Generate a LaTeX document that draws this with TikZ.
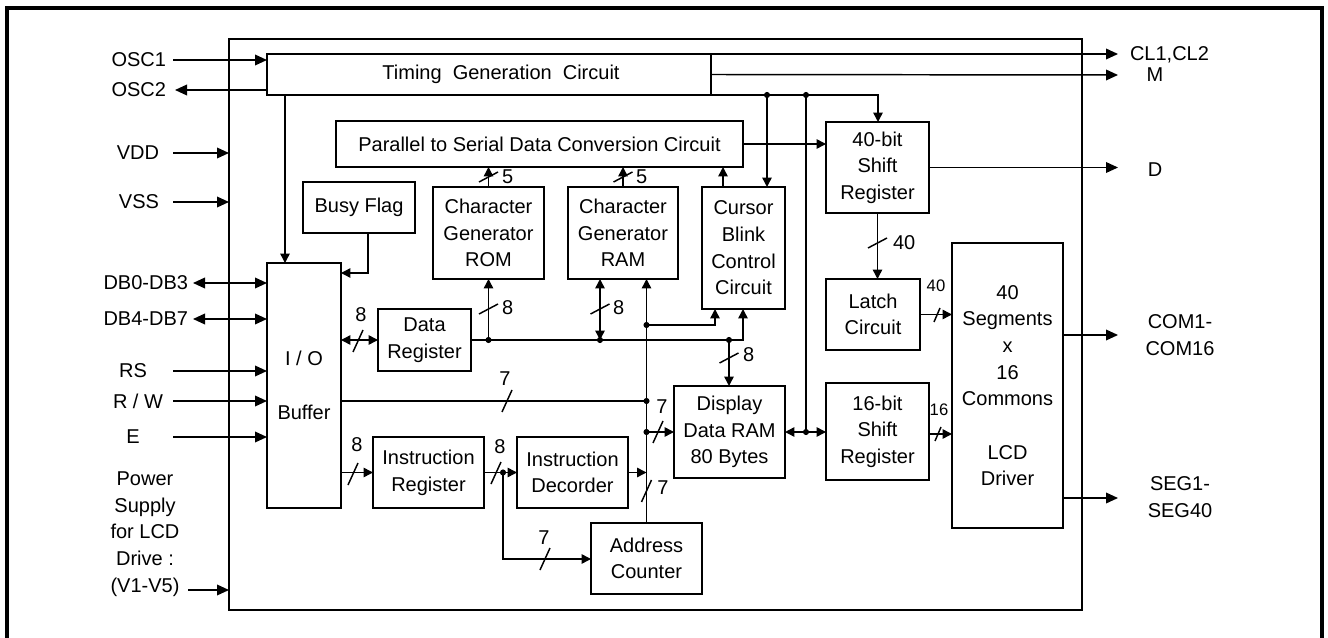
\documentclass[tikz,border=0pt]{standalone}
\usepackage{fontspec}
\setmainfont{Liberation Sans}
\usetikzlibrary{arrows.meta}
\begin{document}
\begin{tikzpicture}[x=0.75pt,y=-0.75pt,
  font=\fontsize{15}{20}\selectfont,
  every node/.style={inner sep=0pt, outer sep=0pt},
  box/.style={draw, line width=1.1pt, inner sep=0pt, outer sep=0pt, align=center},
  sz/.style 2 args={minimum width=#1*0.75pt, minimum height=#2*0.75pt},
  wire/.style={line width=1.1pt},
  ar/.style={wire, -{Triangle[length=7pt,width=7pt]}},
  dar/.style={wire, {Triangle[length=7pt,width=7pt]}-{Triangle[length=7pt,width=7pt]}},
  extar/.style={wire, -{Triangle[length=9pt,width=8pt]}},
  extdar/.style={wire, {Triangle[length=9pt,width=8pt]}-{Triangle[length=9pt,width=8pt]}},
  hsl/.pic={\draw[wire] (-5,11) -- (5,-11);},
  hss/.pic={\draw[wire] (-3,7) -- (3,-7);},
  vsl/.pic={\draw[wire] (-9.5,5) -- (9.5,-5);},
  small/.style={font=\fontsize{12.5}{15}\selectfont}
]
\useasboundingbox (0,0) rectangle (1328,638);
% outer frame
\draw[line width=2.4pt] (7,645) -- (7,8) -- (1322,8) -- (1322,645);

% blocks
\node[box, sz={853}{571}] (chip) at (655.5,324.5) {};
\node[box, sz={444}{41}] (timing) at (489,74.5) {\hspace*{18pt}Timing\ \ Generation\ \ Circuit};
\node[box, sz={407}{46}] (p2s) at (539.5,144) {Parallel to Serial Data Conversion Circuit};
\node[box, sz={112}{51}] (busy) at (359,207.5) {Busy Flag};
\node[box, sz={111}{92}] (cgrom) at (488.5,233) {Character\\Generator\\ROM};
\node[box, sz={110}{92}] (cgram) at (623,233) {Character\\Generator\\RAM};
\node[box, sz={83}{122}] (cursor) at (743.5,248) {Cursor\\Blink\\Control\\Circuit};
\node[box, sz={103}{91}] (sr40) at (877.5,167.5) {40-bit\\Shift\\Register};
\node[box, sz={94}{71}] (latch) at (873,314.5) {Latch\\Circuit};
\node[box, sz={103}{97}] (sr16) at (877.5,431.5) {16-bit\\Shift\\Register};
\node[box, sz={111}{285}] (lcd) at (1007.5,385.5) {40\\Segments\\x\\16\\Commons\\[20pt]LCD\\Driver};
\node[box, sz={74}{245}] (io) at (304,385.5) {I / O\\[20pt]Buffer};
\node[box, sz={93}{62}] (dreg) at (424.5,340) {Data\\Register};
\node[box, sz={111}{92}] (ddram) at (729.5,432) {Display\\Data RAM\\80 Bytes};
\node[box, sz={111}{71}] (ireg) at (428.5,472.5) {Instruction\\Register};
\node[box, sz={111}{71}] (idec) at (572.5,472.5) {Instruction\\Decorder};
\node[box, sz={111}{71}] (ac) at (646.5,558.5) {Address\\Counter};

% left pin labels
\node[anchor=east] (tosc1) at (166,60) {OSC1};
\node[anchor=east] (tosc2) at (166,90) {OSC2};
\node[anchor=east] (tvdd) at (159,153) {VDD};
\node[anchor=east] (tvss) at (159,202) {VSS};
\node[anchor=east] (tdb0) at (188,283) {DB0-DB3};
\node[anchor=east] (tdb4) at (188,319) {DB4-DB7};
\node (trs) at (133,371) {RS};
\node (trw) at (138,401) {R / W};
\node (te) at (133,437) {E};
\node[align=center] (tpow) at (145,534) {Power\\Supply\\for LCD\\Drive :\\(V1-V5)};

% right pin labels
\node[anchor=west] (tcl) at (1130,55) {CL1,CL2};
\node (tm) at (1155,75) {M};
\node (td) at (1155,170) {D};
\node[align=center] (tcom) at (1180,335) {COM1-\\COM16};
\node[align=center] (tseg) at (1180,497) {SEG1-\\SEG40};

% coordinates
\coordinate (osc1) at (173,60);
\coordinate (osc2) at (175,90);
\coordinate (vdd) at (173,153);
\coordinate (vss) at (173,202);
\coordinate (db0) at (193,283);
\coordinate (db4) at (193,319);
\coordinate (rs) at (173,371);
\coordinate (rw) at (173,401);
\coordinate (en) at (173,437);
\coordinate (pw) at (188,590);
\coordinate (clend) at (1118,54);
\coordinate (mend) at (1118,75);
\coordinate (dend) at (1118,168);
\coordinate (com) at (1118,335);
\coordinate (seg) at (1118,498);
\coordinate (j1) at (767,95);
\coordinate (j2) at (806,95);
\coordinate (j3) at (806,432);
\coordinate (k1) at (878,95);
\coordinate (c1) at (723,187);
\coordinate (c2) at (715,325);
\coordinate (b1) at (488.5,340);
\coordinate (b2) at (600,340);
\coordinate (b3) at (729,340);
\coordinate (b4) at (743,340);
\coordinate (v1) at (646.5,325);
\coordinate (v2) at (646.5,401);
\coordinate (v3) at (646.5,432);
\coordinate (t1) at (285,95);
\coordinate (bf) at (368,233);
\coordinate (bf2) at (368,273);
\coordinate (i1) at (503,472.5);
\coordinate (i2) at (503,559);
\coordinate (s16) at (929,434);

% external connections
\draw[extar] (osc1) -- (osc1 -| timing.west);
\draw[extar] (osc2 -| timing.west) -- (osc2);
\draw[extar] (vdd) -- (vdd -| chip.west);
\draw[extar] (vss) -- (vss -| chip.west);
\draw[extdar] (db0) -- (db0 -| io.west);
\draw[extdar] (db4) -- (db4 -| io.west);
\draw[extar] (rs) -- (rs -| io.west);
\draw[extar] (rw) -- (rw -| io.west);
\draw[extar] (en) -- (en -| io.west);
\draw[extar] (pw) -- (pw -| chip.west);
\draw[extar] (timing.north east) -- (clend);
\draw[extar] (timing.east) -- (mend);
\draw[extar] (sr40.east) -- (sr40.east -| dend);
\draw[extar] (lcd.east |- com) -- (com);
\draw[extar] (lcd.east |- seg) -- (seg);

% timing distribution
\draw[ar] (timing.south east) -- (k1) -- (k1 |- sr40.north);
\draw[ar] (j1) -- (j1 |- cursor.north);
\draw[wire] (j2) -- (j3);
\draw[ar] (t1) -- (t1 |- io.north);
\draw[ar] (bf) -- (bf2) -- (bf2 -| io.east);

% parallel to serial
\draw[ar] (p2s.east) -- (p2s.east -| sr40.west);
\draw[ar] (cgrom.north) -- (cgrom.north |- p2s.south);
\pic at (488.5,177) {vsl};
\node[anchor=west] (l5a) at (502,177) {5};
\draw[ar] (cgram.north) -- (cgram.north |- p2s.south);
\pic at (623,177) {vsl};
\node[anchor=west] (l5b) at (636,177) {5};
\draw[ar] (cursor.north -| c1) -- (p2s.south -| c1);

% data bus
\draw[ar] (dreg.east) -- (b4) -- (b4 |- cursor.south);
\draw[ar] (b1) -- (b1 |- cgrom.south);
\pic at (488.5,309) {vsl};
\node[anchor=west] (l8a) at (502,308) {8};
\draw[dar] (b2) -- (b2 |- cgram.south);
\pic at (600,309) {vsl};
\node[anchor=west] (l8b) at (613,308) {8};
\draw[ar] (b3) -- (b3 |- ddram.north);
\pic at (729,358) {vsl};
\node[anchor=west] (l8c) at (743,355) {8};
\draw[dar] (io.east |- dreg.west) -- (dreg.west);
\pic at (358,341) {hsl};
\node (l8d) at (361,315) {8};

% address line
\draw[ar] (ac.north) -- (ac.north |- cgram.south);
\draw[ar] (v1) -- (c2) -- (c2 |- cursor.south);
\draw[wire] (io.east |- v2) -- (v2);
\pic at (507,401) {hsl};
\node (l7a) at (505,379) {7};
\draw[ar] (v3) -- (v3 -| ddram.west);
\pic at (658,432) {hsl};
\node (l7b) at (662,407) {7};
\draw[ar] (idec.east) -- (idec.east -| ac.north);
\pic at (646.5,491) {hsl};
\node (l7c) at (663,488) {7};
\draw[dar] (ddram.east |- j3) -- (j3 -| sr16.west);

% instruction path
\draw[ar] (io.east |- ireg.west) -- (ireg.west);
\pic at (353,474) {hsl};
\node (l8e) at (357,445) {8};
\draw[ar] (ireg.east) -- (idec.west);
\pic at (496,473) {hsl};
\node (l8f) at (500,447) {8};
\draw[ar] (i1) -- (i2) -- (i2 -| ac.west);
\pic at (545,559) {hsl};
\node (l7d) at (544,538) {7};

% shift registers to driver
\draw[ar] (sr40.south) -- (sr40.south |- latch.north);
\pic at (877.5,243) {vsl};
\node[anchor=west] (l40a) at (893,243) {40};
\draw[ar] (latch.east) -- (latch.east -| lcd.west);
\pic at (937,315) {hss};
\node[small] (l40b) at (936,286) {40};
\draw[ar] (s16) -- (s16 -| lcd.west);
\pic at (938,434) {hss};
\node[small] (l16) at (939,410) {16};

% junction dots
\foreach \p in {j1,j2,j3,b1,b2,b3,v1,v2,v3,i1}
  \fill (\p) circle (2.3pt);
\end{tikzpicture}
\end{document}
